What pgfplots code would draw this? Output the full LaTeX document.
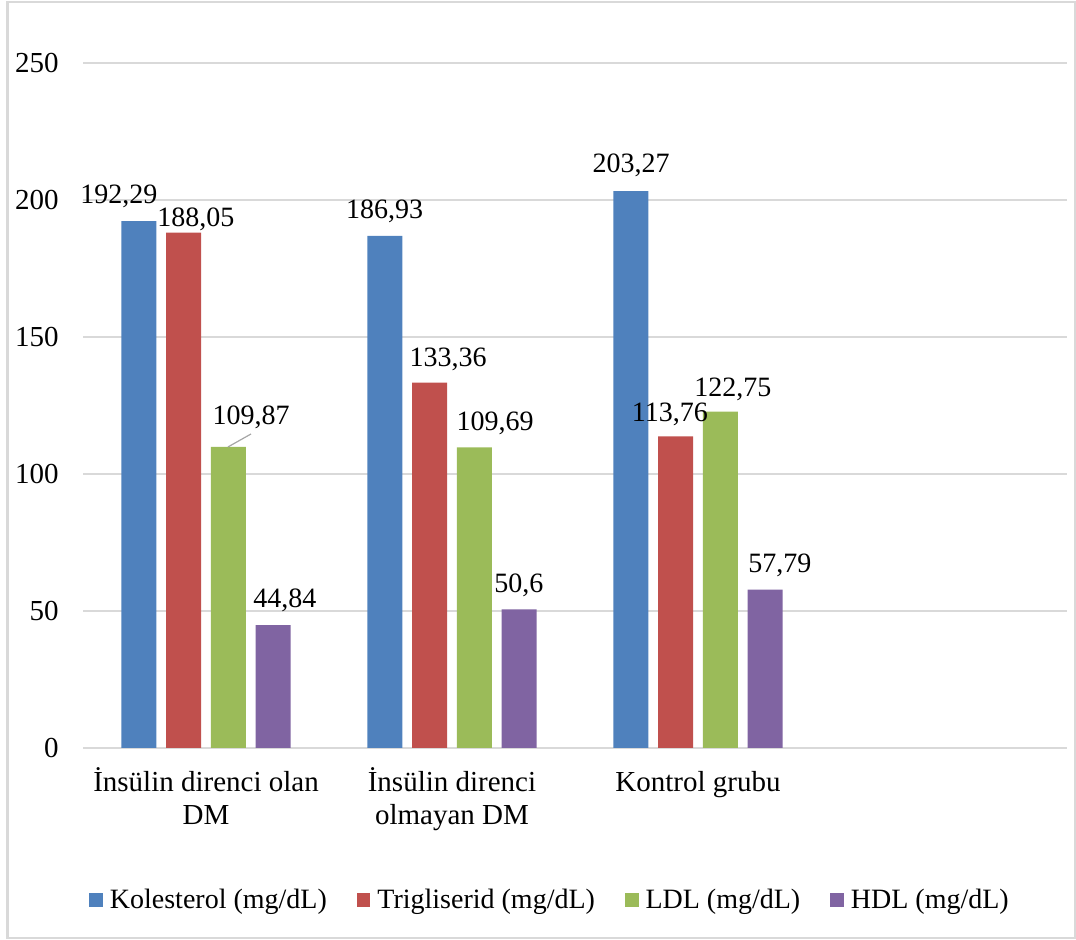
\documentclass[border=0pt]{standalone}
\usepackage{pgfplots}
\pgfplotsset{compat=1.18}
\usepackage{fontspec}
\setmainfont{Liberation Serif}
\definecolor{kol}{HTML}{4F81BD}
\definecolor{tri}{HTML}{C0504D}
\definecolor{ldl}{HTML}{9BBB59}
\definecolor{hdl}{HTML}{8064A2}
\definecolor{gridc}{HTML}{D9D9D9}
\newcommand{\fs}{\fontsize{14}{16.5}\selectfont}
\begin{document}
\begin{tikzpicture}
\useasboundingbox (0pt,0pt) rectangle (538pt,470pt);
\draw[gridc, line width=1.25pt] (3.75pt,1pt) rectangle (537.4pt,469pt);
\begin{axis}[
  at={(41.5pt,96pt)}, anchor=south west,
  scale only axis, width=492pt, height=342.5pt,
  xmin=-0.5, xmax=3.5, ymin=0, ymax=250,
  ytick={0,50,100,150,200,250},
  xtick={0,1,2},
  xticklabels={{İnsülin direnci olan\\DM},{İnsülin direnci\\olmayan DM},{\vphantom{İ}Kontrol grubu}},
  ymajorgrids, grid style={gridc, line width=0.9pt},
  axis line style={draw=none},
  major tick length=0pt,
  /pgf/number format/assume math mode=true,
  yticklabel style={inner sep=0pt, anchor=east, xshift=-12pt, font=\fontsize{14.5}{17}\selectfont},
  xticklabel style={align=center, inner sep=0pt, anchor=north, yshift=-9.5pt, font=\fontsize{14.5}{16.8}\selectfont},
  ybar=4.9pt, bar width=17.5pt,
  clip=false,
  legend columns=4,
  legend style={draw=none, at={(axis description cs:0.4736,-0.2219)}, anchor=center,
    font=\fs, inner sep=0pt,
    /tikz/every odd column/.append style={column sep=3.5pt},
    /tikz/every even column/.append style={column sep=15pt},
    nodes={inner sep=0pt}},
  legend image code/.code={\fill[#1] (0pt,-3.4pt) rectangle (6.8pt,3.4pt);},
]
\addplot[fill=kol, draw=none] coordinates {(0,192.29) (1,186.93) (2,203.27)};
\addplot[fill=tri, draw=none] coordinates {(0,188.05) (1,133.36) (2,113.76)};
\addplot[fill=ldl, draw=none] coordinates {(0,109.87) (1,109.69) (2,122.75)};
\addplot[fill=hdl, draw=none] coordinates {(0,44.84) (1,50.6) (2,57.79)};
\legend{Kolesterol (mg/dL),Trigliserid (mg/dL),LDL (mg/dL),HDL (mg/dL)}
\draw[gray!70, line width=0.6pt] (axis cs:0.089,109.85) -- (axis cs:0.183,114.6);
\begin{scope}[every node/.style={anchor=base, inner sep=0pt, font=\fs}]
\node at (axis cs:-0.354,198.9) {192,29};
\node at (axis cs:-0.041,190.5) {188,05};
\node at (axis cs:0.183,117.9) {109,87};
\node at (axis cs:0.321,51.1) {44,84};
\node at (axis cs:0.726,193.1) {186,93};
\node at (axis cs:0.984,139.4) {133,36};
\node at (axis cs:1.175,115.7) {109,69};
\node at (axis cs:1.272,56.9) {50,6};
\node at (axis cs:1.728,209.9) {203,27};
\node at (axis cs:1.886,119.3) {113,76};
\node at (axis cs:2.142,128.1) {122,75};
\node at (axis cs:2.333,63.9) {57,79};
\end{scope}
\end{axis}
\end{tikzpicture}
\end{document}
